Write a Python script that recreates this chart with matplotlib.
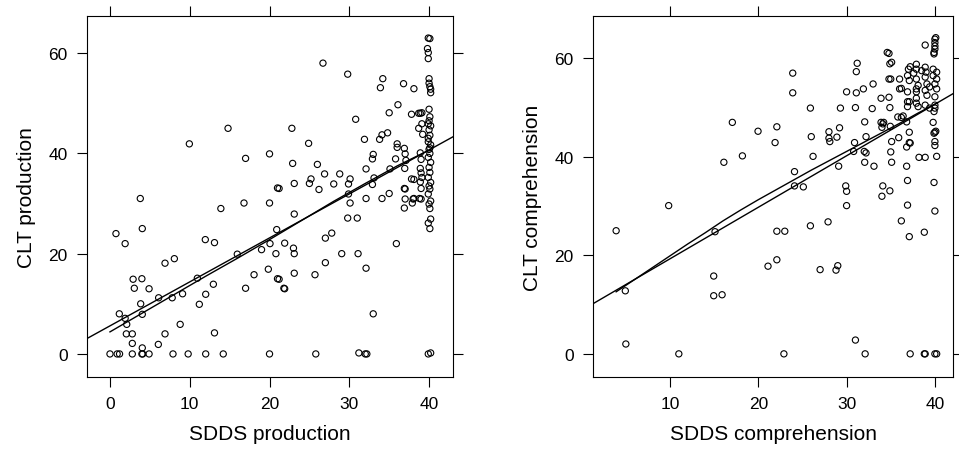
import matplotlib
matplotlib.use("Agg")
import matplotlib.pyplot as plt

plt.rcParams['font.family'] = ['Liberation Sans', 'DejaVu Sans']

# SDDS vs CLT production (left panel)
prod_x = [0, 0.9, 1.2, 2.8, 4.0, 4.1, 4.9, 7.9, 9.8, 12.0, 14.2, 20.0, 25.8, 31.2, 32.0, 32.2, 39.9, 40.2,
          0.75, 4.05, 1.9, 11.95, 13.1, 20.9, 15.96, 19.0, 20.06, 20.8, 6.9, 8.07, 18.06, 19.85, 21.0,
          2.9, 4.0, 3.05, 4.9, 10.95, 12.96, 17.0, 6.1, 7.8, 9.1, 12.0, 11.2, 3.85, 1.17, 4.05, 1.9,
          2.1, 8.8, 2.05, 2.8, 6.9, 13.1, 2.8, 4.05, 6.06,
          14.8, 9.95, 17.0, 20.0, 21.0, 3.8, 13.9, 16.8, 20.0,
          26.7, 29.8, 34.2, 33.9, 36.8, 38.1, 36.1, 35.0, 37.8, 38.7, 38.9, 30.8, 22.8, 24.9, 22.9, 26.0,
          26.9, 28.8, 23.1, 25.2, 25.0, 21.2, 28.05, 30.1, 29.9, 26.2, 29.9, 30.1, 32.1, 34.1, 35.0,
          31.9, 33.8, 34.1, 34.8, 33.0, 32.9, 32.1, 33.1, 32.9, 35.1, 36.0, 36.0, 35.8, 37.0, 36.9,
          37.1, 36.95, 36.9, 37.0, 36.9, 37.8, 38.1, 38.1, 38.8, 38.9, 39.0, 38.9, 39.0, 38.9, 38.7,
          39.1, 39.2, 39.0, 39.1, 39.1, 37.0, 38.0, 39.0,
          23.1, 21.9, 23.0, 23.1, 21.2, 21.8, 21.9, 23.1, 25.7, 27.0, 27.8, 27.0, 29.05, 29.8, 31.0,
          31.1, 32.1, 33.0, 35.9, 37.9,
          40.1, 39.9, 39.8, 39.9, 39.9, 40.0, 40.0, 40.1, 40.2, 40.2, 40.0, 40.1, 39.9, 40.2, 40.0,
          40.1, 39.9, 40.2, 40.0, 40.1, 39.9, 40.2, 40.0, 40.1, 39.9, 40.2, 40.0, 40.1, 39.9, 40.2,
          40.0, 40.1, 39.9, 40.2, 40.1, 40.0, 39.9, 40.1]
prod_y = [0, 0, 0, 0, 0, 0, 0, 0, 0, 0, 0, 0, 0, 0.2, 0, 0, 0, 0.2,
          24.0, 25.0, 22.0, 22.8, 22.2, 24.8, 19.9, 20.8, 22.0, 20.0, 18.1, 19.0, 15.8, 16.9, 15.0,
          14.9, 15.0, 13.1, 13.0, 15.1, 13.9, 13.1, 11.2, 11.2, 12.0, 11.9, 9.9, 10.0, 8.0, 7.9, 7.1,
          5.9, 5.9, 4.0, 4.0, 4.0, 4.2, 2.1, 1.2, 1.9,
          45.0, 41.9, 39.0, 39.9, 33.1, 31.0, 29.0, 30.1, 30.1,
          58.0, 55.8, 54.9, 53.1, 53.9, 52.9, 49.7, 48.1, 47.8, 48.0, 48.0, 46.8, 45.0, 42.0, 38.0, 37.8,
          35.9, 35.9, 34.0, 34.9, 34.0, 33.0, 33.9, 34.9, 33.9, 32.8, 31.9, 30.1, 31.0, 31.0, 32.0,
          42.8, 42.8, 43.7, 44.1, 39.8, 38.9, 36.9, 35.1, 33.8, 36.9, 41.9, 41.2, 38.9, 39.9, 41.0,
          38.6, 37.0, 33.0, 30.9, 29.1, 34.9, 34.8, 31.0, 31.0, 40.1, 38.8, 37.0, 36.1, 34.3, 45.0,
          45.9, 43.8, 33.0, 48.1, 35.2, 32.9, 30.9, 30.9,
          27.9, 22.1, 21.1, 20.0, 14.9, 13.1, 13.0, 16.1, 15.8, 23.1, 24.1, 18.2, 20.0, 27.1, 27.1,
          20.0, 17.1, 8.0, 22.0, 30.1,
          62.9, 63.0, 60.9, 60.1, 58.9, 54.9, 54.0, 53.3, 52.8, 52.1, 48.8, 47.3, 45.9, 45.5, 44.7,
          43.6, 43.0, 41.7, 40.8, 40.0, 39.2, 38.2, 37.2, 36.2, 35.2, 34.2, 33.5, 32.9, 31.9, 30.5,
          29.9, 29.0, 26.1, 26.9, 25.0, 46.5, 42.3, 41.1]

# regression line and smoother for production
prod_intercept = 5.6
prod_slope = 0.877
prod_smooth_x = [0, 4, 8, 12, 16, 20, 24, 28, 32, 36, 40.2]
prod_smooth_y = [4.4, 8.1, 11.8, 15.5, 19.1, 22.8, 26.6, 30.4, 34.0, 37.5, 40.8]

# SDDS vs CLT comprehension (right panel)
comp_x = [9.85, 17.06, 19.97, 16.1, 18.2, 3.9, 4.94, 5.0, 11.0, 15.1, 14.95, 14.95, 15.9,
          21.9, 22.1, 23.9, 23.9, 25.9, 26.0, 26.2, 24.1, 24.1, 25.1, 28.0, 28.0, 28.1, 28.9, 29.2,
          29.1, 29.3, 30.0, 31.1, 31.2, 31.1, 31.9, 33.0, 31.0, 32.9, 32.05, 30.9, 30.8, 32.2, 32.0,
          32.2, 32.05, 33.1, 29.9, 30.0, 30.0, 33.9, 34.8, 34.9, 33.9, 34.1, 34.0, 34.95, 34.8, 34.9,
          35.1, 34.8, 35.0, 36.0, 36.2, 35.8, 36.2, 35.1, 35.9, 35.0, 35.1, 34.1, 34.9, 34.0, 36.8,
          37.1, 37.1, 36.8, 36.8, 36.9, 36.9, 38.2, 38.9, 40.2, 39.9, 40.0,
          22.1, 23.0, 25.9, 27.9, 21.1, 22.1, 27.0, 28.8, 29.0, 36.2, 37.1, 38.8, 31.0,
          22.9, 32.1, 37.2, 38.8, 38.9, 40.0, 40.2,
          39.8, 40.0, 40.1, 39.9, 40.0, 40.0, 37.2, 34.6, 36.4, 34.2,
          38.9, 40.0, 40.0, 40.0, 40.0, 39.9, 40.1, 39.9,
          37.0, 37.9, 37.9, 38.9, 39.0, 39.8, 40.2, 39.8, 40.2, 40.0, 40.2,
          36.9, 37.1, 37.9, 38.1, 38.9, 39.1, 39.4, 37.9, 36.9, 37.9, 38.9, 39.1, 37.9, 36.9, 37.9,
          38.9, 39.4, 40.0, 40.0, 39.9, 40.0, 36.0, 36.9, 37.1, 38.1, 37.2, 38.5, 37.6]
comp_y = [30.1, 47.0, 45.2, 38.9, 40.2, 25.0, 12.8, 2.0, 0.0, 24.8, 15.8, 11.8, 12.0,
          42.9, 46.1, 57.0, 53.0, 49.9, 44.1, 40.1, 37.0, 34.1, 33.9, 45.1, 43.8, 43.1, 44.0, 45.9,
          38.1, 49.9, 53.2, 57.3, 59.0, 53.0, 53.8, 54.8, 50.0, 49.8, 47.1, 42.9, 41.1, 44.1, 41.1,
          40.8, 38.9, 38.1, 34.1, 33.0, 30.1, 51.9, 52.1, 50.0, 47.0, 46.7, 46.0, 46.2, 61.0, 58.9,
          59.2, 55.8, 55.8, 55.8, 53.9, 48.1, 48.0, 43.1, 43.9, 41.0, 38.9, 34.1, 33.1, 32.0, 47.1,
          45.0, 42.9, 42.0, 38.1, 35.2, 30.2, 39.9, 39.9, 40.1, 34.8, 29.0,
          24.9, 24.9, 26.0, 26.8, 17.8, 19.1, 17.1, 17.0, 17.9, 27.0, 23.8, 24.7, 2.8,
          0, 0, 0, 0, 0, 0, 0,
          47.0, 45.0, 45.2, 44.8, 43.1, 42.3, 42.8, 61.2, 48.3, 47.0,
          62.7, 63.9, 63.2, 62.5, 61.9, 61.2, 64.2, 60.9,
          57.8, 58.8, 57.8, 58.2, 57.2, 57.8, 57.2, 56.5, 55.8, 54.8, 53.8,
          56.5, 55.5, 55.8, 54.5, 56.2, 54.8, 54.2, 53.8, 53.2, 53.2, 53.5, 52.5, 51.9, 51.2, 50.9,
          50.5, 49.9, 50.5, 49.9, 49.2, 52.2, 53.8, 50.2, 51.2, 50.2, 58.3, 57.5, 57.0]

# regression line and smoother for comprehension
comp_intercept = 8.84
comp_slope = 1.046
comp_smooth_x = [3.9, 6, 8, 10, 12, 14, 16, 18, 20, 22, 24, 26, 28, 30, 32, 34, 36, 38, 40.3]
comp_smooth_y = [12.6, 15.1, 17.5, 19.9, 22.3, 24.6, 27.0, 29.2, 31.3, 33.3, 35.3, 37.3, 39.2,
                 41.1, 43.0, 44.9, 46.8, 48.8, 51.0]


def draw_panel(ax, x, y, intercept, slope, sx, sy, xlabel, ylabel, xlim, ylim, xticks):
    ax.scatter(x, y, s=20, facecolors='none', edgecolors='black', linewidths=0.8, zorder=3)
    ax.axline((0, intercept), slope=slope, color='black', lw=1.0)
    ax.plot(sx, sy, color='black', lw=1.0)
    ax.set_xlim(xlim)
    ax.set_ylim(ylim)
    ax.set_xticks(xticks)
    ax.set_yticks([0, 20, 40, 60])
    ax.tick_params(direction='out', length=7, width=0.8, top=True, right=True,
                   labeltop=False, labelright=False, labelsize=12.5, pad=7)
    for sp in ax.spines.values():
        sp.set_linewidth(0.8)
    ax.set_xlabel(xlabel, fontsize=15, labelpad=9)
    ax.set_ylabel(ylabel, fontsize=15, labelpad=9)


fig = plt.figure(figsize=(9.59, 4.52), dpi=100)
ax1 = fig.add_axes([87 / 959, 1 - 378 / 452, 366 / 959, 361 / 452])
ax2 = fig.add_axes([593 / 959, 1 - 378 / 452, 360 / 959, 361 / 452])

draw_panel(ax1, prod_x, prod_y, prod_intercept, prod_slope, prod_smooth_x, prod_smooth_y,
           'SDDS production', 'CLT production', (-2.88, 43.0), (-4.6, 67.4), [0, 10, 20, 30, 40])
draw_panel(ax2, comp_x, comp_y, comp_intercept, comp_slope, comp_smooth_x, comp_smooth_y,
           'SDDS comprehension', 'CLT comprehension', (1.28, 42.05), (-4.7, 68.6), [10, 20, 30, 40])

fig.savefig('out.png', dpi=100)
